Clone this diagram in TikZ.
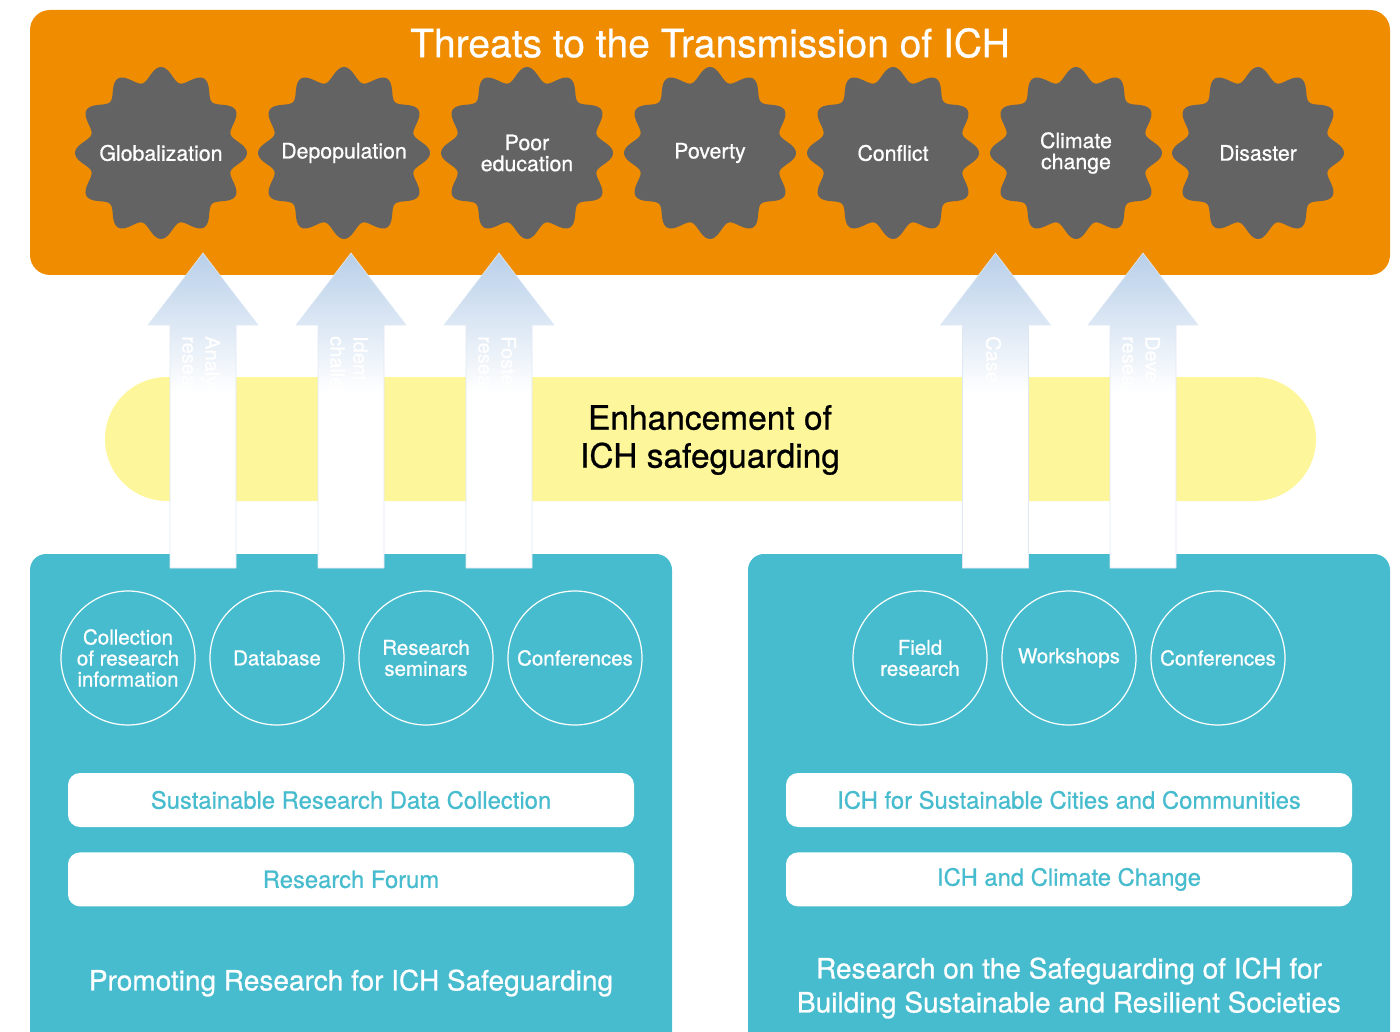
\documentclass[tikz,border=0pt]{standalone}
\usepackage{fontspec}
\setmainfont{TeX Gyre Heros}[FakeBold=0.7]
\usetikzlibrary{positioning}

\definecolor{ichorange}{HTML}{F08C00}
\definecolor{ichgray}{HTML}{636363}
\definecolor{ichyellow}{HTML}{FDF69A}
\definecolor{ichteal}{HTML}{47BCCE}
\definecolor{ichblue}{HTML}{B8CFE9}

\pgfdeclareverticalshading{arrowfade}{100bp}{color(0bp)=(white); color(25bp)=(white); color(53bp)=(white); color(75bp)=(ichblue); color(100bp)=(ichblue)}

\begin{document}
\begin{tikzpicture}[
    x=1pt, y=-1pt,
    node distance=15pt,
    panel/.style={fill=ichteal, rounded corners=16pt},
    threat/.style={text=white, font=\fontsize{21.3}{21}\selectfont, align=center},
    method/.style={circle, draw=white, line width=1.2pt, outer sep=0pt, minimum size=134pt, inner sep=0pt, text=white, font=\fontsize{20.5}{21}\selectfont, align=center},
    bar/.style={rectangle, fill=white, rounded corners=12pt, minimum width=566pt, minimum height=54pt, inner sep=0pt, text=ichteal, font=\fontsize{23.8}{24}\selectfont},
    caption/.style={text=white, font=\fontsize{28}{34}\selectfont, align=center},
    hint/.style={text=white, font=\fontsize{20}{23}\selectfont, align=left, rotate=-90, anchor=west, inner sep=0pt}
]
\clip (0,0) rectangle (1400,1032);

% threats
\fill[ichorange, rounded corners=20pt] (30,10) rectangle (1390,275);
\node[text=white, font=\fontsize{39}{40}\selectfont] (title) at (710,43) {Threats to the Transmission of ICH};
\foreach \cx/\name/\txt in {161/glob/Globalization, 344/depop/Depopulation, 527/edu/{Poor\\education}, 710/pov/Poverty, 893/conf/Conflict, 1076/clim/{Climate\\change}, 1258/dis/Disaster}{
  \fill[ichgray] plot[domain=0:360, samples=241] ({\cx+(79+7*cos(12*\x))*cos(\x)}, {153+(79+7*cos(12*\x))*sin(\x)}) -- cycle;
  \node[threat] (\name) at (\cx,153) {\txt};
}

% panels and band
\fill[panel] (30,554) rectangle (672,1060);
\fill[panel] (748,554) rectangle (1390,1060);
\fill[ichyellow, rounded corners=62pt] (105,377) rectangle (1316,501);
\node[font=\fontsize{33.5}{38}\selectfont, align=center] (enh) at (710,440) {Enhancement of\\ICH safeguarding};

% arrows
\foreach \ax/\txt in {203/{Analy\\resea}, 351/{Ident\\challe}, 499/{Foste\\resea}, 995.5/{Case}, 1143/{Deve\\resea}}{
  \shade[shading=arrowfade, draw=ichblue!45, line width=0.6pt] (\ax-33,568) -- (\ax-33,325) -- (\ax-55,325) -- (\ax,253) -- (\ax+55,325) -- (\ax+33,325) -- (\ax+33,568) -- cycle;
  \node[hint] at (\ax-2,336) {\txt};
}

% left panel
\node[method] (collect) at (128,658) {Collection\\of research\\information};
\node[method, right=of collect] (database) {Database};
\node[method, right=of database] (seminars) {Research\\seminars};
\node[method, right=of seminars] (confl) {Conferences};
\node[bar] (datacoll) at (351,800) {Sustainable Research Data Collection};
\node[bar, below=25pt of datacoll] (forum) {Research Forum};
\node[caption] (promo) at (351,983) {Promoting Research for ICH Safeguarding};

% right panel
\node[method] (field) at (920,658) {Field\\research};
\node[method, right=of field] (workshops) {Workshops};
\node[method, right=of workshops] (confr) {Conferences};
\node[bar] (cities) at (1069,800) {ICH for Sustainable Cities and Communities};
\node[bar, below=25pt of cities] (climate) {ICH and Climate Change};
\node[caption] (resil) at (1069,988) {Research on the Safeguarding of ICH for\\Building Sustainable and Resilient Societies};

\end{tikzpicture}
\end{document}
